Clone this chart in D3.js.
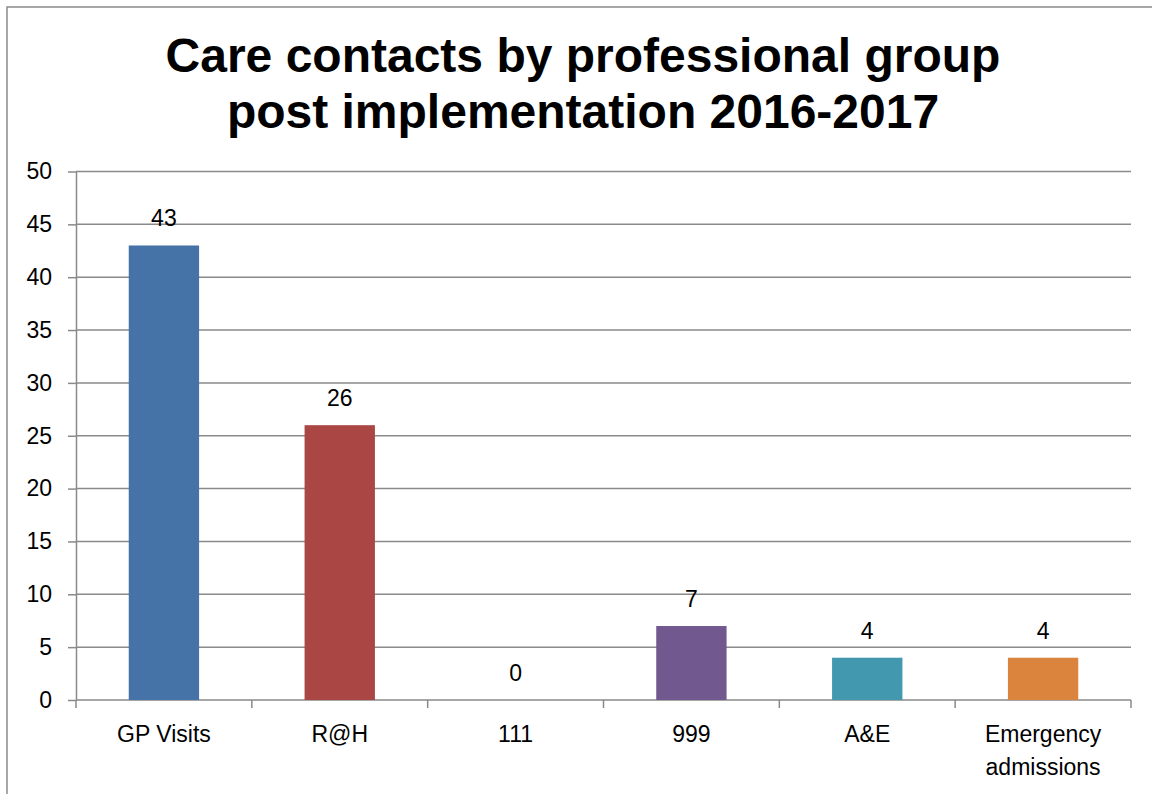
<!DOCTYPE html>
<html>
<head>
<meta charset="utf-8">
<script src="https://cdn.jsdelivr.net/npm/d3@7"></script>
<style>
  html, body { margin: 0; padding: 0; background: #fff; }
  svg { display: block; }
</style>
</head>
<body>
<svg id="chart" width="1152" height="794"></svg>
<script>
// Care contacts per professional group, 2016-2017
const titleLines = ["Care contacts by professional group", "post implementation 2016-2017"];
const categories = ["GP Visits", "R@H", "111", "999", "A&E", "Emergency admissions"];
const values = [43, 26, 0, 7, 4, 4];
const barColors = ["#4572A7", "#AA4643", "#4F81BD", "#71588F", "#4198AF", "#DB843D"];
const yTicks = [0, 5, 10, 15, 20, 25, 30, 35, 40, 45, 50];

const svg = d3.select("#chart");
const W = 1152, H = 794;
const plot = { left: 76, right: 1131, top: 171.5, bottom: 700 };
const gridColor = "#8a8a8a";
const labelFont = "'Liberation Sans', Arial, sans-serif";
const labelSize = 23;

// Outer chart frame (runs off the right and bottom edges)
svg.append("rect")
  .attr("x", 7).attr("y", 7)
  .attr("width", W).attr("height", H)
  .attr("fill", "none").attr("stroke", gridColor).attr("stroke-width", 1.5);

// Title
svg.append("g").selectAll("text").data(titleLines).join("text")
  .attr("x", 583)
  .attr("y", (d, i) => 72 + i * 56)
  .attr("text-anchor", "middle")
  .attr("font-family", labelFont)
  .attr("font-weight", "bold")
  .attr("font-size", 48)
  .attr("fill", "#000")
  .text(d => d);

const x = d3.scaleBand()
  .domain(categories)
  .range([plot.left, plot.right])
  .paddingInner(0.6)
  .paddingOuter(0.3);

const y = d3.scaleLinear().domain([0, 50]).range([plot.bottom, plot.top]);

// Horizontal gridlines
svg.append("g").selectAll("line").data(yTicks.filter(t => t > 0)).join("line")
  .attr("x1", plot.left).attr("x2", plot.right)
  .attr("y1", d => y(d)).attr("y2", d => y(d))
  .attr("stroke", gridColor).attr("stroke-width", 1.5);

// Y axis
const yAxis = svg.append("g")
  .attr("transform", `translate(${plot.left},0)`)
  .call(d3.axisLeft(y).tickValues(yTicks).tickSize(8).tickPadding(16).tickSizeOuter(0));
yAxis.select(".domain").attr("stroke", gridColor).attr("stroke-width", 1.5);
yAxis.selectAll(".tick line").attr("stroke", gridColor).attr("stroke-width", 1.5);
yAxis.selectAll(".tick text")
  .attr("font-family", labelFont).attr("font-size", labelSize).attr("fill", "#000");

// X axis with tick marks on category boundaries
const boundaries = d3.range(categories.length + 1)
  .map(i => plot.left + i * (plot.right - plot.left) / categories.length);
const xAxisG = svg.append("g");
xAxisG.append("line")
  .attr("x1", plot.left).attr("x2", plot.right)
  .attr("y1", plot.bottom).attr("y2", plot.bottom)
  .attr("stroke", gridColor).attr("stroke-width", 1.5);
xAxisG.selectAll("line.bt").data(boundaries).join("line")
  .attr("class", "bt")
  .attr("x1", d => d).attr("x2", d => d)
  .attr("y1", plot.bottom).attr("y2", plot.bottom + 8)
  .attr("stroke", gridColor).attr("stroke-width", 1.5);

// Category labels, wrapped onto a second line only when wider than the slot
const catLabels = svg.append("g").selectAll("text").data(categories).join("text")
  .attr("x", d => x(d) + x.bandwidth() / 2)
  .attr("y", 742)
  .attr("text-anchor", "middle")
  .attr("font-family", labelFont)
  .attr("font-size", labelSize)
  .attr("fill", "#000")
  .text(d => d);
catLabels.each(function (d) {
  const t = d3.select(this);
  if (this.getComputedTextLength() <= x.step() * 0.95) return;
  const cx = x(d) + x.bandwidth() / 2;
  t.text(null);
  d.split(" ").forEach((w, i) => {
    t.append("tspan").attr("x", cx).attr("dy", i === 0 ? 0 : 33).text(w);
  });
});

// Bars
svg.append("g").selectAll("rect").data(values).join("rect")
  .attr("x", (d, i) => x(categories[i]))
  .attr("y", d => y(d))
  .attr("width", x.bandwidth())
  .attr("height", d => y(0) - y(d))
  .attr("fill", (d, i) => barColors[i]);

// Value labels
svg.append("g").selectAll("text").data(values).join("text")
  .attr("x", (d, i) => x(categories[i]) + x.bandwidth() / 2)
  .attr("y", d => y(d) - 19)
  .attr("text-anchor", "middle")
  .attr("font-family", labelFont)
  .attr("font-size", labelSize)
  .attr("fill", "#000")
  .text(d => d);
</script>
</body>
</html>
